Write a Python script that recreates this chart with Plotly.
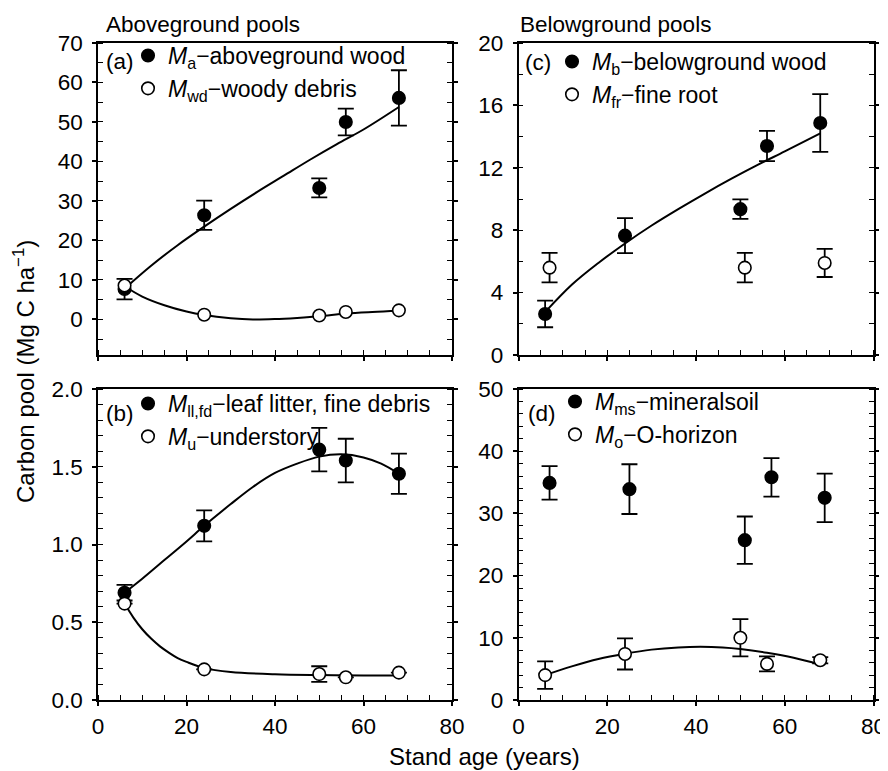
import plotly.graph_objects as go

# page has an 8px body margin; work in window pixels and shift
OFF = 8
W, H = 888 - OFF, 771 - OFF

# ---------------- data ----------------
# (a) aboveground wood / woody debris
age_a = [6, 24, 50, 56, 68]
Ma = [7.7, 26.4, 33.3, 50.0, 56.1]
Ma_err = [2.6, 3.7, 2.4, 3.4, 7.0]
Mwd = [8.6, 1.2, 1.0, 1.9, 2.3]
fit_a_age = [6, 12, 18, 24, 30, 36, 42, 48, 54, 60, 68]
fit_Ma = [7.8, 13.6, 18.8, 23.5, 28.0, 32.3, 36.4, 40.5, 44.4, 48.1, 53.8]
fit_wd_age = [6, 10, 15, 20, 24, 30, 35, 40, 45, 50, 56, 62, 68]
fit_Mwd = [8.4, 5.8, 3.6, 2.0, 1.1, 0.3, 0.0, 0.1, 0.4, 0.8, 1.5, 1.9, 2.2]

# (b) leaf litter & fine debris / understory
age_b = [6, 24, 50, 56, 68]
Mll = [0.69, 1.12, 1.61, 1.54, 1.455]
Mll_err = [0.05, 0.10, 0.14, 0.14, 0.13]
Mu = [0.62, 0.197, 0.167, 0.146, 0.176]
Mu_err = [0.0, 0.0, 0.05, 0.0, 0.0]
fit_ll_age = [6, 10, 15, 20, 24, 30, 35, 40, 45, 50, 55, 60, 64, 68]
fit_Mll = [0.69, 0.78, 0.90, 1.02, 1.12, 1.26, 1.37, 1.46, 1.52, 1.565, 1.58, 1.56, 1.52, 1.455]
fit_u_age = [6, 8, 10, 12, 14, 16, 18, 20, 24, 30, 40, 50, 60, 68]
fit_Mu = [0.62, 0.53, 0.455, 0.395, 0.345, 0.305, 0.27, 0.245, 0.205, 0.18, 0.165, 0.16, 0.158, 0.158]

# (c) belowground wood / fine root
age_c = [6, 24, 50, 56, 68]
Mb = [2.63, 7.65, 9.35, 13.4, 14.87]
Mb_err = [0.85, 1.12, 0.63, 0.97, 1.85]
age_fr = [7, 51, 69]
Mfr = [5.6, 5.6, 5.9]
Mfr_err = [0.95, 0.95, 0.9]
fit_b_age = [6, 12, 18, 24, 30, 36, 42, 48, 54, 60, 68]
fit_Mb = [2.75, 4.5, 5.9, 7.15, 8.3, 9.35, 10.35, 11.3, 12.2, 13.05, 14.2]

# (d) mineral soil / O-horizon
age_ms = [7, 25, 51, 57, 69]
Mms = [34.9, 33.9, 25.7, 35.8, 32.5]
Mms_err = [2.7, 4.0, 3.8, 3.1, 3.9]
age_o = [6, 24, 50, 56, 68]
Mo = [4.0, 7.4, 10.0, 5.8, 6.4]
Mo_err = [2.2, 2.5, 3.0, 1.2, 0.5]
fit_o_age = [6, 12, 18, 24, 30, 36, 41, 46, 50, 56, 62, 68]
fit_Mo = [4.0, 5.4, 6.6, 7.45, 8.1, 8.45, 8.55, 8.45, 8.2, 7.6, 6.8, 5.7]

# ---------------- figure ----------------
FONT = "Liberation Sans, Arial, Helvetica, sans-serif"
FS = 22.5
LFS = 23
fig = go.Figure()


def px_x(p):
    return (p - OFF) / W


def px_y(p):
    return 1 - (p - OFF) / H


def curve(x, y, xa, ya):
    fig.add_trace(go.Scatter(x=x, y=y, mode="lines", line=dict(color="black", width=2, shape="spline"),
                             xaxis=xa, yaxis=ya, showlegend=False, hoverinfo="skip"))


def pts(x, y, err, filled, name, xa, ya, legend):
    kw = {}
    if err is not None:
        kw["error_y"] = dict(type="data", array=err, visible=True, color="black", thickness=1.8, width=8)
    fig.add_trace(go.Scatter(
        x=x, y=y, mode="markers", name=name,
        marker=dict(size=12.5, color="black" if filled else "white", line=dict(color="black", width=1.6)),
        xaxis=xa, yaxis=ya, legend=legend, **kw))


# panel a
curve(fit_a_age, fit_Ma, "x", "y")
curve(fit_wd_age, fit_Mwd, "x", "y")
pts(age_a, Ma, Ma_err, True, "<i>M</i><sub>a</sub>−aboveground wood", "x", "y", "legend")
pts(age_a, Mwd, None, False, "<i>M</i><sub>wd</sub>−woody debris", "x", "y", "legend")
# panel c
curve(fit_b_age, fit_Mb, "x2", "y2")
pts(age_c, Mb, Mb_err, True, "<i>M</i><sub>b</sub>−belowground wood", "x2", "y2", "legend2")
pts(age_fr, Mfr, Mfr_err, False, "<i>M</i><sub>fr</sub>−fine root", "x2", "y2", "legend2")
# panel b
curve(fit_ll_age, fit_Mll, "x3", "y3")
curve(fit_u_age, fit_Mu, "x3", "y3")
pts(age_b, Mll, Mll_err, True, "<i>M</i><sub>ll,fd</sub>−leaf litter, fine debris", "x3", "y3", "legend3")
pts(age_b, Mu, Mu_err, False, "<i>M</i><sub>u</sub>−understory", "x3", "y3", "legend3")
# panel d
curve(fit_o_age, fit_Mo, "x4", "y4")
pts(age_ms, Mms, Mms_err, True, "<i>M</i><sub>ms</sub>−mineralsoil", "x4", "y4", "legend4")
pts(age_o, Mo, Mo_err, False, "<i>M</i><sub>o</sub>−O-horizon", "x4", "y4", "legend4")

LEFT = [98, 452]
RIGHT = [518.5, 873.5]
TOP = [43, 355]
BOT = [389, 700]

tickfont = dict(family=FONT, size=FS, color="black")


def xax(dom, anchor, labels):
    return dict(domain=[px_x(dom[0]), px_x(dom[1])], anchor=anchor, range=[0, 80], dtick=20, tick0=0,
                showline=True, linecolor="black", linewidth=1.5, mirror=True,
                ticks="outside", ticklen=4, tickwidth=1.5, tickcolor="black",
                minor=dict(ticks="inside", dtick=5, ticklen=5, tickwidth=1.2, tickcolor="black"),
                showgrid=False, zeroline=False, showticklabels=labels, tickfont=tickfont,
                ticklabelstandoff=1, automargin=False)


def yax(dom, anchor, rng, dtick, mdtick, fmt=None):
    d = dict(domain=[px_y(dom[1]), px_y(dom[0])], anchor=anchor, range=rng, dtick=dtick, tick0=0,
             showline=True, linecolor="black", linewidth=1.5, mirror="ticks",
             ticks="outside", ticklen=4, tickwidth=1.5, tickcolor="black",
             minor=dict(ticks="inside", dtick=mdtick, ticklen=5, tickwidth=1.2, tickcolor="black"),
             showgrid=False, zeroline=False, tickfont=tickfont, ticklabelstandoff=5, automargin=False)
    if fmt:
        d["tickformat"] = fmt
    return d


fig.update_layout(
    width=W, height=H, margin=dict(l=0, r=0, t=0, b=0, autoexpand=False),
    paper_bgcolor="white", plot_bgcolor="white",
    font=dict(family=FONT, size=FS, color="black"),
    xaxis=xax(LEFT, "y", False),
    yaxis=yax(TOP, "x", [-9, 70], 10, 5),
    xaxis2=xax(RIGHT, "y2", False),
    yaxis2=yax(TOP, "x2", [0, 20], 4, 2),
    xaxis3=xax(LEFT, "y3", True),
    yaxis3=yax(BOT, "x3", [0, 2], 0.5, 0.1, ".1f"),
    xaxis4=xax(RIGHT, "y4", True),
    yaxis4=yax(BOT, "x4", [0, 50], 10, 2),
)

leg_common = dict(xanchor="left", yanchor="top", bgcolor="rgba(0,0,0,0)", borderwidth=0,
                  font=dict(family=FONT, size=LFS, color="black"), tracegroupgap=0,
                  itemclick=False, itemdoubleclick=False)
fig.update_layout(
    legend=dict(x=px_x(128), y=px_y(34), **leg_common),
    legend2=dict(x=px_x(552), y=px_y(40), **leg_common),
    legend3=dict(x=px_x(128), y=px_y(382), **leg_common),
    legend4=dict(x=px_x(555), y=px_y(380), **leg_common),
)

ann = []


def text(s, x, y, size=FS, xanchor="left", angle=0):
    ann.append(dict(text=s, x=px_x(x), y=px_y(y), xref="paper", yref="paper", xanchor=xanchor,
                    yanchor="middle", showarrow=False, textangle=angle,
                    font=dict(family=FONT, size=size, color="black")))


text("Aboveground pools", 104, 24)
text("Belowground pools", 518, 24)
text("(a)", 104, 61)
text("(c)", 523, 63)
text("(b)", 104, 413)
text("(d)", 526, 413)
text("Carbon pool (Mg C ha<sup>−1</sup>)", 24, 372, size=24, xanchor="center", angle=-90)
text("Stand age (years)", 484, 756, size=24, xanchor="center")
fig.update_layout(annotations=ann)

fig.write_html("out.html")
